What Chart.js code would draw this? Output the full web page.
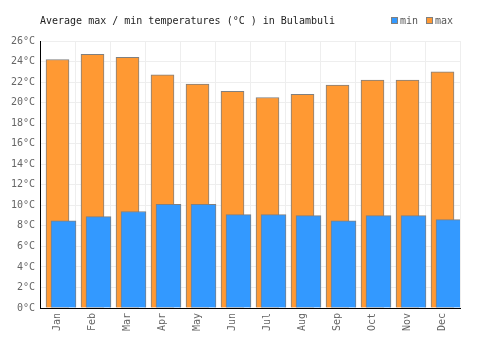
<!DOCTYPE html>
<html>
<head>
<meta charset="utf-8">
<script src="https://cdn.jsdelivr.net/npm/chart.js@4/dist/chart.umd.min.js"></script>
<style>
	html, body { margin: 0; padding: 0; background: #fff; }
	#wrap { width: 500px; height: 350px; }
</style>
</head>
<body>
<div id="wrap"><canvas id="chart-temps" width="500" height="350"></canvas></div>
<script>
const MONTHS = ["Jan", "Feb", "Mar", "Apr", "May", "Jun", "Jul", "Aug", "Sep", "Oct", "Nov", "Dec"];
const MIN_TEMPS = [8.5, 8.9, 9.4, 10.1, 10.1, 9.1, 9.1, 9.0, 8.5, 9.0, 9.0, 8.6];
const MAX_TEMPS = [24.2, 24.7, 24.4, 22.7, 21.8, 21.1, 20.5, 20.8, 21.7, 22.2, 22.2, 23.0];
const Y_TICKS = [0, 2, 4, 6, 8, 10, 12, 14, 16, 18, 20, 22, 24, 26];

const TITLE = "Average max / min temperatures (°C ) in Bulambuli";
const FONT = "DejaVu Sans Mono";
const MIN_COLOR = "#3399ff";
const MAX_COLOR = "#ff9933";
const BORDER = "#808080";

//--------------------------------------------
// Title + legend, drawn on the canvas
//--------------------------------------------
const headerPlugin = {
	id: "header",
	afterDraw(chart) {
		const ctx = chart.ctx;
		ctx.save();
		ctx.font = `10px "${FONT}"`;
		ctx.textBaseline = "middle";
		ctx.fillStyle = "#222";
		ctx.fillText(TITLE, chart.chartArea.left, 21);

		const items = [
			{ label: "min", color: MIN_COLOR, x: 391 },
			{ label: "max", color: MAX_COLOR, x: 426 },
		];
		items.forEach((item) => {
			ctx.fillStyle = item.color;
			ctx.fillRect(item.x, 17.5, 6, 6);
			ctx.strokeStyle = BORDER;
			ctx.lineWidth = 1;
			ctx.strokeRect(item.x + 0.5, 17.5, 6, 6);
			ctx.fillStyle = "#555";
			ctx.fillText(item.label, item.x + 9, 21);
		});
		ctx.restore();
	},
};

const CHART_DATA = {
	labels: MONTHS,
	datasets: [
		{
			label: "min",
			data: MIN_TEMPS.map((v, i) => ({ x: i, y: v })),
			xAxisID: "xMin",
			grouped: false,
			backgroundColor: MIN_COLOR,
			borderColor: BORDER,
			borderWidth: 1,
			barThickness: 25,
		},
		{
			label: "max",
			data: MAX_TEMPS,
			xAxisID: "x",
			grouped: false,
			backgroundColor: MAX_COLOR,
			borderColor: BORDER,
			borderWidth: 1,
			barThickness: 23,
		},
	],
};

// shift of the min bars to the right, as a fraction of a category
const MIN_SHIFT = 6 / 35;

const CHART_CONFIG = {
	type: "bar",
	data: CHART_DATA,
	options: {
		responsive: false,
		animation: false,
		layout: {
			padding: { top: 41, right: 40, left: 0, bottom: 0 },
		},
		scales: {
			x: {
				type: "category",
				offset: true,
				grid: { color: "#eeeeee", offset: true, drawTicks: false },
				border: { color: "#000", width: 1 },
				ticks: {
					color: "#666",
					font: { family: FONT, size: 10 },
					minRotation: 90,
					maxRotation: 90,
					padding: 5,
				},
				afterFit(scale) {
					scale.height = 42;
				},
			},
			xMin: {
				type: "linear",
				display: false,
				offset: false,
				min: -0.5 - MIN_SHIFT,
				max: 11.5 - MIN_SHIFT,
			},
			y: {
				min: 0,
				max: 26,
				grid: { color: "#eeeeee", drawTicks: false },
				border: { color: "#000", width: 1 },
				afterBuildTicks(scale) {
					scale.ticks = Y_TICKS.map((v) => ({ value: v }));
				},
				ticks: {
					color: "#666",
					font: { family: FONT, size: 10 },
					padding: 5,
					callback: (v) => v + "°C",
				},
				afterFit(scale) {
					scale.width = 40;
				},
			},
		},
		plugins: {
			legend: { display: false },
			title: { display: false },
			tooltip: { enabled: false },
		},
	},
	plugins: [headerPlugin],
};

new Chart(document.getElementById("chart-temps"), CHART_CONFIG);
</script>
</body>
</html>
